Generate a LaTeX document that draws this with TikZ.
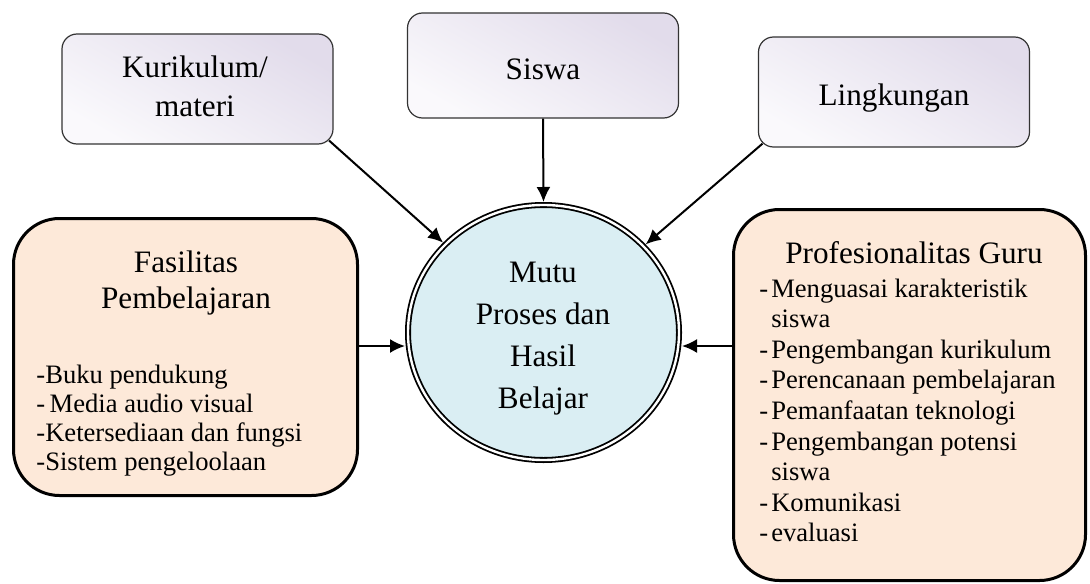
\documentclass[tikz,border=0pt]{standalone}
\usepackage{fontspec}
\setmainfont{Liberation Serif}
\usepackage{tikz}
\usetikzlibrary{arrows.meta,%
		positioning,%
		shapes.geometric}
\definecolor{lavtop}{RGB}{226,220,235}
\definecolor{lavlow}{RGB}{250,249,252}
\definecolor{peach}{RGB}{253,233,217}
\definecolor{paleblue}{RGB}{218,238,243}

\begin{document}
\begin{tikzpicture}[x=0.5pt,y=-0.5pt,
	topbox/.style={draw=black!80, line width=0.6pt, rounded corners=7.5pt,
		top color=lavtop, bottom color=lavlow, shading angle=-30,
		minimum width=135.5pt, minimum height=55pt, inner sep=0pt},
	bigbox/.style={draw, line width=1.5pt, rounded corners=23pt, fill=peach, inner sep=0pt},
	txt/.style={anchor=base, inner sep=0pt},
	headfont/.style={font=\fontsize{15.6}{#1}\selectfont},
	listfont/.style={font=\fontsize{13.3}{#1}\selectfont},
	arr/.style={line width=1pt, -{Latex[length=7.5pt,width=7pt]}}]
\useasboundingbox (0,0) rectangle (1090,583);

% kotak atas
\node[topbox] (kur) at (197.5,89) {};
\node[topbox, minimum height=52.5pt] (siswa) at (543,65.5) {};
\node[topbox] (ling) at (894,92) {};
\node[txt, headfont=19.5pt] (kurtxt) at (195,78) {\begin{tabular}[t]{@{}c@{}}Kurikulum/\\materi\end{tabular}};
\node[txt, headfont=19pt] (siswatxt) at (543,80) {Siswa};
\node[txt, headfont=19pt] (lingtxt) at (894,105) {Lingkungan};

% kotak samping
\node[bigbox, minimum width=172pt, minimum height=138.5pt] (fas) at (185.5,357) {};
\node[bigbox, minimum width=176pt, minimum height=185.5pt] (prof) at (909.5,395) {};
\node[txt, headfont=18pt] (fastxt) at (186,272) {\begin{tabular}[t]{@{}c@{}}Fasilitas\\Pembelajaran\end{tabular}};
\node[txt, anchor=base west, listfont=14.5pt] (faslist) at (36,383) {\begin{tabular}[t]{@{}l@{}}
-Buku pendukung\\
-\,Media audio visual\\
-Ketersediaan dan fungsi\\
-Sistem pengeloolaan
\end{tabular}};
\node[txt, headfont=19pt] (proftxt) at (914,263) {Profesionalitas Guru};
\node[txt, anchor=base west, listfont=15.3pt] (proflist) at (759,297) {\begin{tabular}[t]{@{}l@{\hspace{1.5pt}}l@{}}
-&Menguasai karakteristik\\
 &siswa\\
-&Pengembangan kurikulum\\
-&Perencanaan pembelajaran\\
-&Pemanfaatan teknologi\\
-&Pengembangan potensi\\
 &siswa\\
-&Komunikasi\\
-&evaluasi
\end{tabular}};

% lingkaran tengah
\node[ellipse, draw, line width=0.9pt, double=white, double distance=1.2pt, fill=paleblue,
	minimum width=135.5pt, minimum height=127.5pt, inner sep=0pt, outer sep=1.5pt] (mutu) at (543.5,332.5) {};
\node[txt, headfont=21pt] (mututxt) at (543,282) {\begin{tabular}[t]{@{}c@{}}Mutu\\Proses dan\\Hasil\\Belajar\end{tabular}};

% panah
\draw[arr, shorten <=-3pt] (kur.south east) -- (mutu);
\draw[arr] (siswa.south) -- (mutu.north);
\draw[arr, shorten <=-3pt] (ling.south west) -- (mutu);
\draw[arr] ([yshift=5.5pt]fas.east) -- ([yshift=5.5pt]fas.east -| mutu.west);
\draw[arr] ([yshift=24.5pt]prof.west) -- ([yshift=24.5pt]prof.west -| mutu.east);
\end{tikzpicture}
\end{document}
